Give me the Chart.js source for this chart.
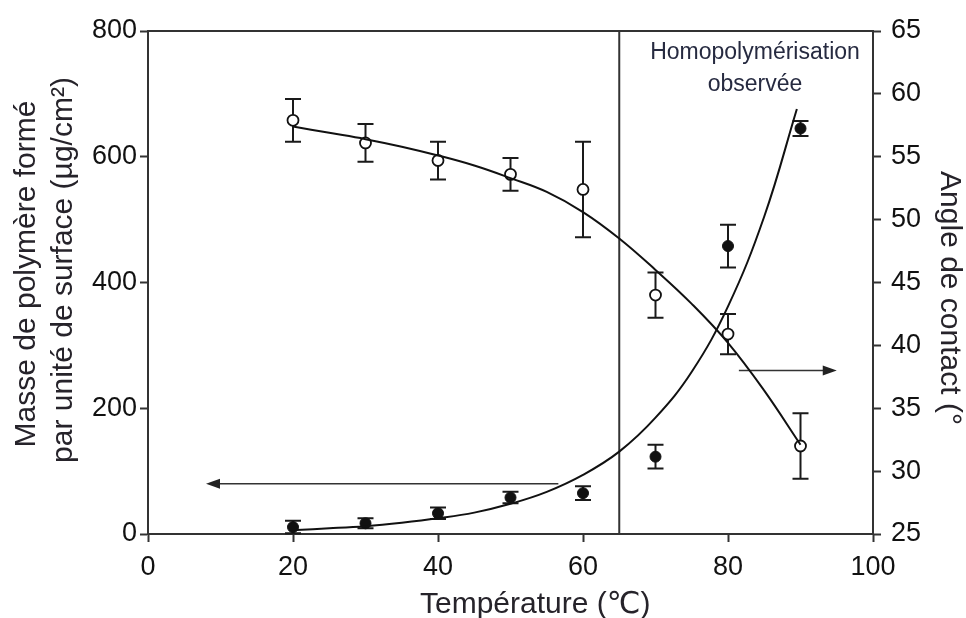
<!DOCTYPE html>
<html>
<head>
<meta charset="utf-8">
<script src="https://cdn.jsdelivr.net/npm/chart.js@4.4.1/dist/chart.umd.min.js"></script>
<style>
  html, body { margin: 0; padding: 0; background: #fff; }
  #wrap { width: 966px; height: 618px; }
</style>
</head>
<body>
<div id="wrap"><canvas id="c" width="966" height="618"></canvas></div>
<script>
// Mesures : température de greffage (°C)
const temperatures = [20, 30, 40, 50, 60, 70, 80, 90];
// Masse de polymère formé (µg/cm²) et écart-type
const masse = [11, 17, 33, 58, 65, 123, 458, 645];
const masseErr = [10, 8, 9, 9, 11, 19, 34, 12];
// Angle de contact (°) et écart-type
const angle = [57.9, 56.1, 54.7, 53.6, 52.4, 44.0, 40.9, 32.0];
const angleErr = [1.7, 1.5, 1.5, 1.3, 3.8, 1.8, 1.6, 2.6];

// Courbes de tendance
const fitMasseT = [20.5, 25, 30, 35, 40, 45, 50, 55, 60, 65, 70, 75, 80, 85, 89.5];
const fitMasse = [6.5, 9, 12.5, 18, 25, 34, 48, 67, 94, 131, 185, 258, 362, 505, 676];
const fitAngleT = [20, 25, 30, 35, 40, 45, 50, 55, 60, 65, 70, 75, 80, 85, 90];
const fitAngle = [57.4, 56.9, 56.4, 55.8, 55.1, 54.3, 53.3, 52.2, 50.6, 48.5, 46.0, 43.3, 40.2, 36.4, 32.1];

// Graduations
const xTicks = [0, 20, 40, 60, 80, 100];
const yTicks = [0, 200, 400, 600, 800];
const y1Ticks = [25, 30, 35, 40, 45, 50, 55, 60, 65];

// Seuil d'homopolymérisation et flèches indiquant l'axe de chaque série
const seuilHomopolymerisation = 65;
const flecheMasse = { x: [56.6, 8], y: 80 };
const flecheAngle = { x: [81.5, 95], y: 38 };

const FONT = '"Liberation Sans", Arial, "DejaVu Sans", sans-serif';
const INK = '#1a1a1a';

function arrow(ctx, x0, y0, x1, y1) {
  ctx.save();
  ctx.strokeStyle = '#333';
  ctx.fillStyle = '#222';
  ctx.lineWidth = 1.5;
  const dir = Math.sign(x1 - x0);
  ctx.beginPath();
  ctx.moveTo(x0, y0);
  ctx.lineTo(x1 - dir * 10, y1);
  ctx.stroke();
  ctx.beginPath();
  ctx.moveTo(x1, y1);
  ctx.lineTo(x1 - dir * 14, y1 - 5);
  ctx.lineTo(x1 - dir * 14, y1 + 5);
  ctx.closePath();
  ctx.fill();
  ctx.restore();
}

function errorBars(ctx, xs, ys, errs, scaleX, scaleY) {
  ctx.save();
  ctx.strokeStyle = INK;
  ctx.lineWidth = 2;
  xs.forEach((t, i) => {
    const px = scaleX.getPixelForValue(t);
    const top = scaleY.getPixelForValue(ys[i] + errs[i]);
    const bot = scaleY.getPixelForValue(ys[i] - errs[i]);
    ctx.beginPath();
    ctx.moveTo(px, top); ctx.lineTo(px, bot);
    ctx.moveTo(px - 8, top); ctx.lineTo(px + 8, top);
    ctx.moveTo(px - 8, bot); ctx.lineTo(px + 8, bot);
    ctx.stroke();
  });
  ctx.restore();
}

const decorPlugin = {
  id: 'decor',
  beforeDatasetsDraw(chart) {
    const { ctx, chartArea: a, scales } = chart;
    // cadre du graphique
    ctx.save();
    ctx.strokeStyle = '#333';
    ctx.lineWidth = 2;
    ctx.beginPath();
    ctx.moveTo(a.left, a.top); ctx.lineTo(a.right, a.top);
    ctx.stroke();
    // limite d'homopolymérisation
    const xs = scales.x.getPixelForValue(seuilHomopolymerisation);
    ctx.beginPath();
    ctx.moveTo(xs, a.top); ctx.lineTo(xs, a.bottom);
    ctx.stroke();
    ctx.restore();

    errorBars(ctx, temperatures, masse, masseErr, scales.x, scales.y);
    errorBars(ctx, temperatures, angle, angleErr, scales.x, scales.y1);

    arrow(ctx,
      scales.x.getPixelForValue(flecheMasse.x[0]), scales.y.getPixelForValue(flecheMasse.y),
      scales.x.getPixelForValue(flecheMasse.x[1]), scales.y.getPixelForValue(flecheMasse.y));
    arrow(ctx,
      scales.x.getPixelForValue(flecheAngle.x[0]), scales.y1.getPixelForValue(flecheAngle.y),
      scales.x.getPixelForValue(flecheAngle.x[1]), scales.y1.getPixelForValue(flecheAngle.y));
  },
  afterDraw(chart) {
    const { ctx } = chart;
    ctx.save();
    ctx.fillStyle = '#26232a';
    ctx.textBaseline = 'alphabetic';

    // titre de l'axe des abscisses
    ctx.font = '30px ' + FONT;
    ctx.textAlign = 'left';
    ctx.fillText('Température (℃)', 420, 613);

    // titre de l'axe de gauche (deux lignes)
    ctx.textAlign = 'center';
    ctx.save();
    ctx.translate(35, 274);
    ctx.rotate(-Math.PI / 2);
    ctx.fillText('Masse de polymère formé', 0, 0);
    ctx.restore();
    ctx.save();
    ctx.translate(72, 270);
    ctx.rotate(-Math.PI / 2);
    ctx.fillText('par unité de surface (µg/cm²)', 0, 0);
    ctx.restore();

    // titre de l'axe de droite
    ctx.save();
    ctx.translate(941, 298);
    ctx.rotate(Math.PI / 2);
    ctx.fillText('Angle de contact (°', 0, 0);
    ctx.restore();

    // annotation de la zone d'homopolymérisation
    ctx.fillStyle = '#262a40';
    ctx.font = '23px ' + FONT;
    ctx.fillText('Homopolymérisation', 755, 59);
    ctx.fillText('observée', 755, 91);
    ctx.restore();
  }
};

function fixedTicks(values) {
  return scale => { scale.ticks = values.map(v => ({ value: v })); };
}

const gridOpts = {
  display: true,
  drawOnChartArea: false,
  drawTicks: true,
  tickLength: 8,
  tickWidth: 2,
  tickColor: '#333'
};
const borderOpts = { display: true, color: '#333', width: 2 };
const tickFont = { family: FONT, size: 27 };

new Chart(document.getElementById('c'), {
  type: 'scatter',
  data: {
    datasets: [
      {
        type: 'line',
        data: fitMasseT.map((t, i) => ({ x: t, y: fitMasse[i] })),
        yAxisID: 'y',
        borderColor: '#111',
        borderWidth: 2,
        pointRadius: 0,
        fill: false,
        tension: 0.4
      },
      {
        type: 'line',
        data: fitAngleT.map((t, i) => ({ x: t, y: fitAngle[i] })),
        yAxisID: 'y1',
        borderColor: '#111',
        borderWidth: 2,
        pointRadius: 0,
        fill: false,
        tension: 0.4
      },
      {
        data: temperatures.map((t, i) => ({ x: t, y: masse[i] })),
        yAxisID: 'y',
        pointStyle: 'circle',
        pointRadius: 5.5,
        backgroundColor: '#111',
        borderColor: '#111',
        borderWidth: 1
      },
      {
        data: temperatures.map((t, i) => ({ x: t, y: angle[i] })),
        yAxisID: 'y1',
        pointStyle: 'circle',
        pointRadius: 5.5,
        backgroundColor: '#fff',
        borderColor: '#111',
        borderWidth: 1.8
      }
    ]
  },
  options: {
    responsive: false,
    animation: false,
    devicePixelRatio: 1,
    layout: { padding: { top: 31, left: 0, right: 0, bottom: 0 } },
    plugins: { legend: { display: false }, tooltip: { enabled: false } },
    scales: {
      x: {
        type: 'linear',
        position: 'bottom',
        min: 0, max: 100,
        afterBuildTicks: fixedTicks(xTicks),
        afterFit: s => { s.height = 84; },
        grid: gridOpts,
        border: borderOpts,
        ticks: { font: tickFont, color: '#111', padding: 9, maxRotation: 0, autoSkip: false }
      },
      y: {
        type: 'linear',
        position: 'left',
        min: 0, max: 800,
        afterBuildTicks: fixedTicks(yTicks),
        afterFit: s => { s.width = 148; },
        grid: gridOpts,
        border: borderOpts,
        ticks: { font: tickFont, color: '#111', padding: 3 }
      },
      y1: {
        type: 'linear',
        position: 'right',
        min: 25, max: 65,
        afterBuildTicks: fixedTicks(y1Ticks),
        afterFit: s => { s.width = 93; },
        grid: gridOpts,
        border: borderOpts,
        ticks: { font: tickFont, color: '#111', padding: 10 }
      }
    }
  },
  plugins: [decorPlugin]
});
</script>
</body>
</html>
